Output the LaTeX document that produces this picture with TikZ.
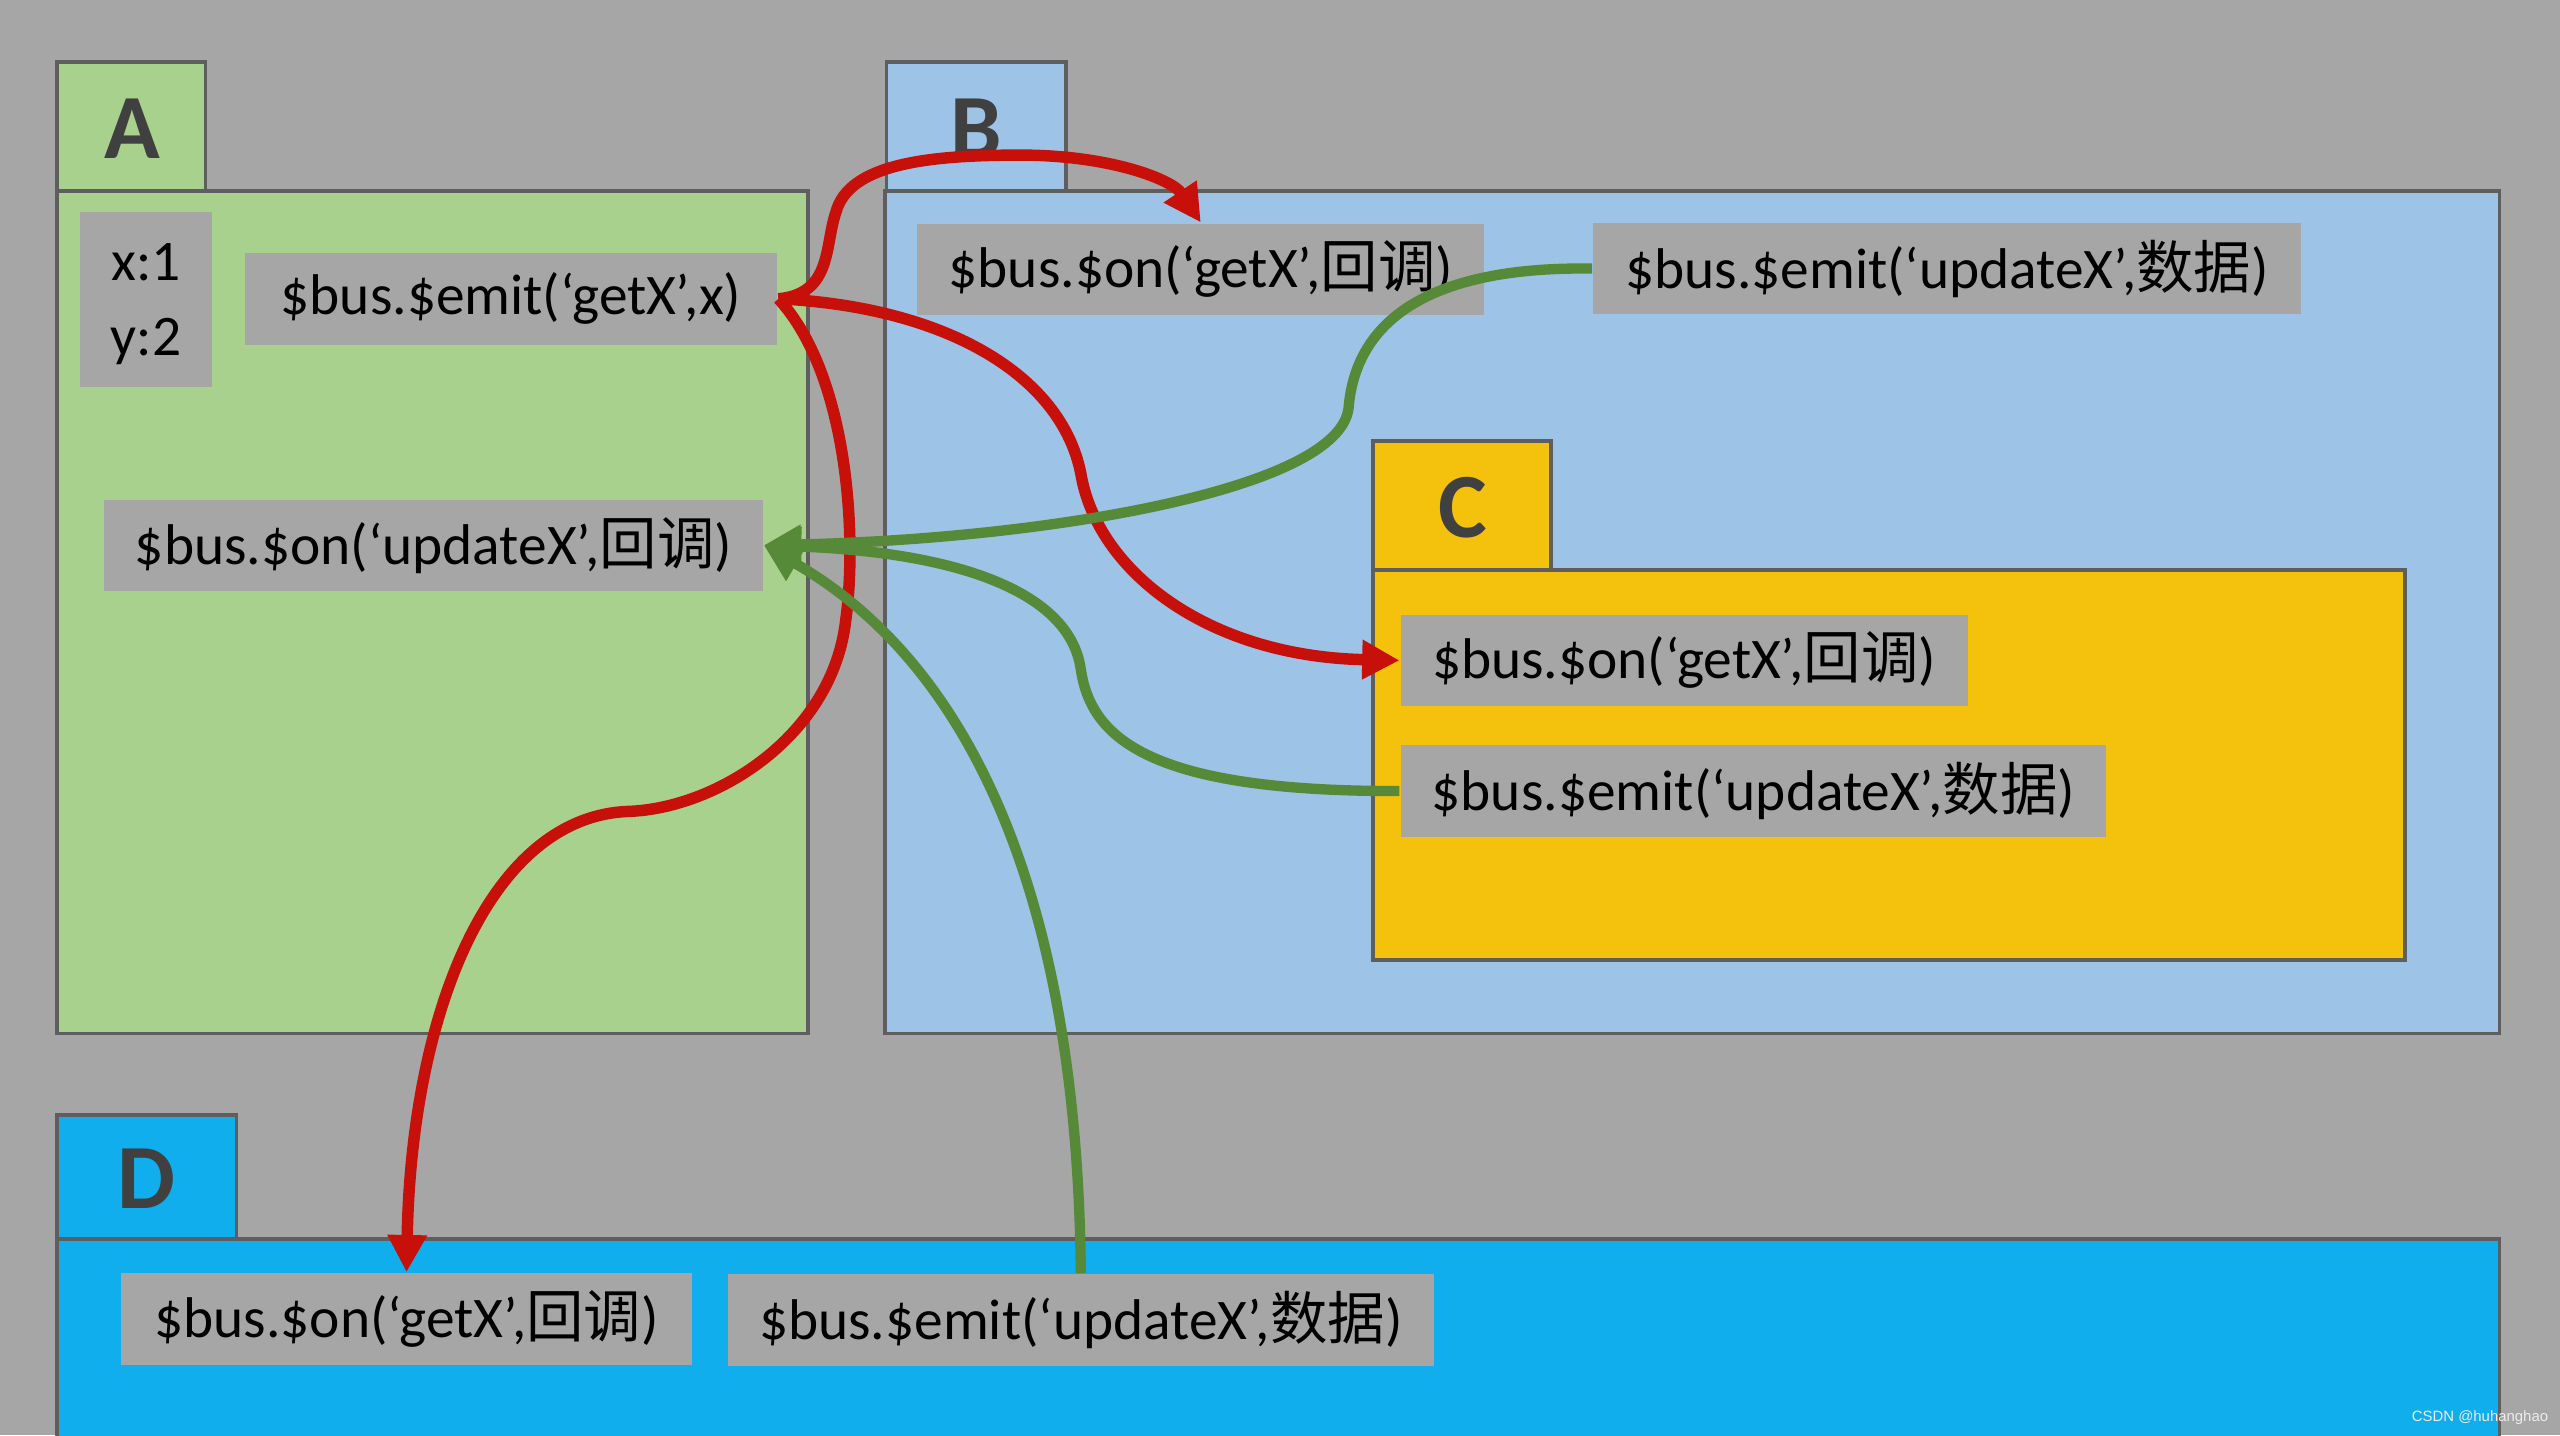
\documentclass[tikz,border=0pt]{standalone}
\usepackage{fontspec}
\setmainfont{Carlito}
\newfontfamily\cjk{Noto Sans CJK SC}
\newfontfamily\markfont{Liberation Sans}
\usetikzlibrary{arrows.meta}
\definecolor{bggray}{HTML}{A6A6A6}
\definecolor{boxgray}{HTML}{A6A6A6}
\definecolor{edgegray}{HTML}{5E5E5E}
\definecolor{labelgray}{HTML}{404040}
\definecolor{greenA}{HTML}{A9D18E}
\definecolor{blueB}{HTML}{9DC3E6}
\definecolor{goldC}{HTML}{F4C20D}
\definecolor{blueD}{HTML}{10AEEC}
\definecolor{arrowred}{HTML}{C8100A}
\definecolor{arrowgreen}{HTML}{578A38}
\newcommand{\Huidiao}{{\cjk 回调}}
\newcommand{\Shuju}{{\cjk 数据}}
\tikzset{>={Triangle[length=6.5pt,width=6.5pt]}}
\tikzset{
  panel/.style={draw=edgegray,line width=0.6pt},
  tablabel/.style={font=\bfseries\fontsize{16}{16}\selectfont,text=labelgray},
  msg/.style={fill=boxgray,inner sep=0pt,minimum height=0.56cm,font=\fontsize{10}{12}\selectfont},
  getx/.style={->,draw=arrowred,line width=2pt},
  updx/.style={->,draw=arrowgreen,line width=1.8pt},
}

\begin{document}
\begin{tikzpicture}[x=0.01cm,y=-0.01cm]
  \useasboundingbox (0,0) rectangle (1568,879);
  \fill[bggray] (0,0) rectangle (1568,879);
  % component frames
  \draw[panel,fill=greenA] (35,38) rectangle (126,117);
  \draw[panel,fill=greenA] (35,117) rectangle (495,633);
  \node[tablabel] (labA) at (81,79) {A};
  \draw[panel,fill=blueB] (543,38) rectangle (653,117);
  \draw[panel,fill=blueB] (542,117) rectangle (1531,633);
  \node[tablabel] (labB) at (598,79) {B};
  \draw[panel,fill=goldC] (841,270) rectangle (950,349);
  \draw[panel,fill=goldC] (841,349) rectangle (1473,588);
  \node[tablabel] (labC) at (896,311) {C};
  \draw[panel,fill=blueD] (35,683) rectangle (145,759);
  \draw[panel,fill=blueD] (35,759) rectangle (1531,890);
  \node[tablabel] (labD) at (90,722) {D};
  % messages
  \node[msg,minimum width=0.81cm,minimum height=1.07cm,align=center,font=\fontsize{10}{13.2}\selectfont] (dataA) at (89.5,183.5) {\rule{0pt}{8pt}x:1\\y:2};
  \node[msg,minimum width=3.26cm] (emitA) at (313,183) {\$bus.\$emit(‘getX’,x)};
  \node[msg,minimum width=4.03cm] (onA) at (265.5,334) {\$bus.\$on(‘updateX’,\Huidiao)};
  \node[msg,minimum width=3.47cm] (onB) at (735.5,165) {\$bus.\$on(‘getX’,\Huidiao)};
  \node[msg,minimum width=4.33cm] (emitB) at (1192.5,164.5) {\$bus.\$emit(‘updateX’,\Shuju)};
  \node[msg,minimum width=3.47cm] (onC) at (1031.5,404.5) {\$bus.\$on(‘getX’,\Huidiao)};
  \node[msg,minimum width=4.32cm] (emitC) at (1074,484.5) {\$bus.\$emit(‘updateX’,\Shuju)};
  \node[msg,minimum width=3.50cm] (onD) at (249,808) {\$bus.\$on(‘getX’,\Huidiao)};
  \node[msg,minimum width=4.32cm] (emitD) at (662,808.5) {\$bus.\$emit(‘updateX’,\Shuju)};
  % getX
  \draw[getx] (emitA.east) .. controls (510,180) and (505,150) .. (512,130) .. controls (520,100) and (570,95) .. (625,95) .. controls (680,95) and (718,110) .. (onB.north);
  \draw[getx] (emitA.east) .. controls (580,188) and (650,230) .. (662,290) .. controls (672,350) and (740,402) .. (onC.west);
  \draw[getx] (emitA.east) .. controls (520,230) and (525,330) .. (518,380) .. controls (510,450) and (440,495) .. (385,497) .. controls (300,500) and (252,620) .. (onD.north);
  % updateX
  \draw[updx] (emitB.west) .. controls (870,163) and (830,200) .. (826,250) .. controls (820,300) and (640,330) .. (onA.east);
  \draw[updx] (emitC.west) .. controls (700,485) and (668,450) .. (662,410) .. controls (655,360) and (580,338) .. (onA.east);
  \draw[updx] (emitD.north) .. controls (660,560) and (600,410) .. (onA.east);
  \node[font=\markfont\fontsize{2.6}{3}\selectfont,text=white!85!gray] (mark) at (1519,868) {CSDN @huhanghao};
\end{tikzpicture}
\end{document}
